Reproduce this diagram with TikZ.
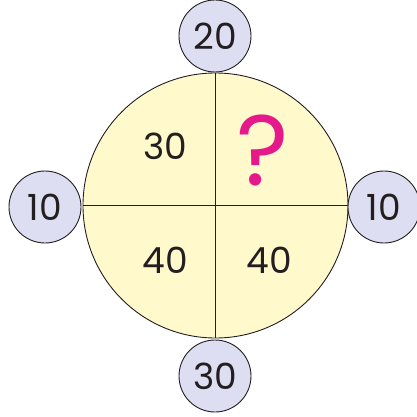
\documentclass[tikz,border=0pt]{standalone}
\usepackage{fontspec}
\setmainfont{Poppins}
\definecolor{pale}{HTML}{FFF9CC}
\definecolor{lav}{HTML}{DEDEF2}
\definecolor{ink}{HTML}{231F20}
\definecolor{mag}{HTML}{E6198A}
\tikzset{
  bigc/.style={circle, draw=ink, line width=0.9pt, fill=pale, minimum size=265pt, inner sep=0pt},
  smallc/.style={circle, draw=ink, line width=0.9pt, fill=lav, minimum size=72pt, inner sep=0pt, text=ink, font=\fontsize{36}{36}\selectfont},
  num/.style={inner sep=0pt, text=ink, font=\fontsize{36}{36}\selectfont},
  divider/.style={draw=ink, line width=0.9pt}
}
\begin{document}
\begin{tikzpicture}[x=1pt,y=-1pt]
\useasboundingbox (0,0) rectangle (416,417);
\node[bigc] (main) at (215.5,205.5) {};
\draw[divider] (main.north) -- (main.south);
\draw[divider] (main.west) -- (main.east);
\node[smallc] (top) at (215,36) {20};
\node[smallc] (left) at (45,207) {10};
\node[smallc] (right) at (384,207) {10};
\node[smallc] (bottom) at (215,376) {30};
\node[num] (tl) at (165,146) {30};
\node[num] (bl) at (165,260.5) {40};
\node[num] (br) at (269,260.5) {40};
\node[inner sep=0pt, text=mag, font=\fontsize{100}{100}\selectfont] (q) at (263,150) {?};
\end{tikzpicture}
\end{document}
